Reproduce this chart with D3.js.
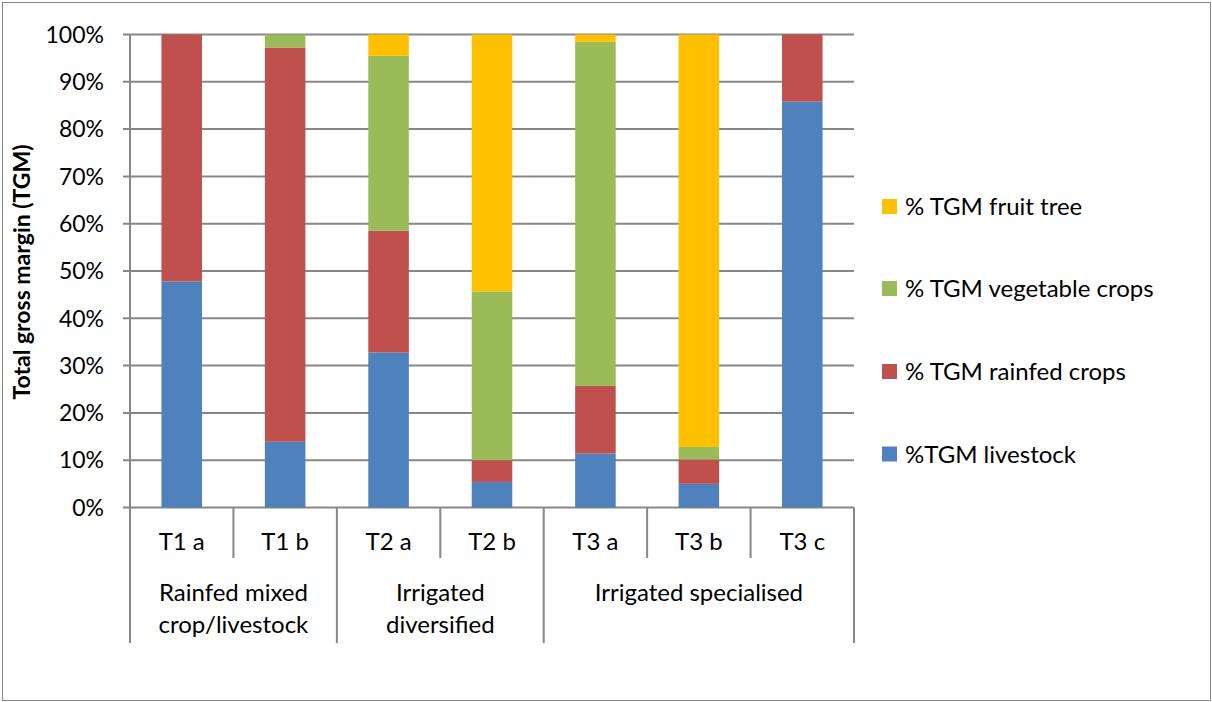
<!DOCTYPE html>
<html><head><meta charset="utf-8">
<script src="https://cdn.jsdelivr.net/npm/d3@7"></script>
<style>
html,body{margin:0;padding:0;background:#fff;}
svg{display:block;}
text{font-family:Lato,"Open Sans",sans-serif;fill:#000;}
</style></head>
<body>
<svg id="chart" width="1212" height="702"></svg>
<script>
const categories = ["T1 a","T1 b","T2 a","T2 b","T3 a","T3 b","T3 c"];
const groupLabels = [["Rainfed mixed","crop/livestock"],["Irrigated","diversified"],["Irrigated specialised"]];
const groupSizes = [2,2,3];
const seriesNames = ["%TGM livestock","% TGM rainfed crops","% TGM vegetable crops","% TGM fruit tree"];
const livestock = [47.8, 13.9, 32.8, 5.4, 11.4, 5.0, 85.8];
const rainfed   = [52.2, 83.35, 25.7, 4.6, 14.3, 5.15, 14.2];
const vegetable = [0, 2.75, 37.0, 35.7, 72.75, 2.65, 0];
const fruit     = [0, 0, 4.5, 54.3, 1.55, 87.2, 0];
const yTicks = [0,10,20,30,40,50,60,70,80,90,100];
const colors = ["#4F81BD","#C0504D","#9BBB59","#FFC000"];
const yTitle = "Total gross margin (TGM)";

const svg = d3.select("#chart");
const x0 = 130, x1 = 854, yBot = 507.5, yTop = 34.5;
const gridCol = "#878787";

svg.append("rect").attr("x",2.5).attr("y",2.5).attr("width",1208).attr("height",698)
  .attr("fill","#fff").attr("stroke","#878787").attr("stroke-width",1);

const x = d3.scaleBand().domain(categories).range([x0,x1]).paddingInner(0.608).paddingOuter(0.304);
const y = d3.scaleLinear().domain([0,100]).range([yBot,yTop]);

// gridlines
svg.append("g").selectAll("line").data(yTicks).join("line")
  .attr("x1",x0-7).attr("x2",x1).attr("y1",d=>y(d)).attr("y2",d=>y(d))
  .attr("stroke",gridCol).attr("stroke-width",2);

// y tick labels
svg.append("g").selectAll("text").data(yTicks).join("text")
  .attr("x",104).attr("y",d=>y(d)).attr("dy","0.36em").attr("text-anchor","end")
  .style("font-size","23px").text(d=>d+"%");

// stacked bars
const table = categories.map((c,i)=>({cat:c, s0:livestock[i], s1:rainfed[i], s2:vegetable[i], s3:fruit[i]}));
const stack = d3.stack().keys(["s0","s1","s2","s3"])(table);
svg.append("g").selectAll("g").data(stack).join("g")
  .attr("fill",(d,i)=>colors[i])
  .selectAll("rect").data(d=>d).join("rect")
  .attr("x",d=>x(d.data.cat)).attr("width",x.bandwidth())
  .attr("y",d=>y(d[1])).attr("height",d=>Math.max(0,y(d[0])-y(d[1])));

// axis lines
svg.append("line").attr("x1",x0).attr("x2",x0).attr("y1",yTop).attr("y2",yBot)
  .attr("stroke",gridCol).attr("stroke-width",2);

// category labels and dividers
const step = x.step();
svg.append("g").selectAll("text").data(categories).join("text")
  .attr("x",d=>x(d)+x.bandwidth()/2).attr("y",550).attr("text-anchor","middle")
  .style("font-size","24px").text(d=>d);

const bounds = d3.range(categories.length+1).map(i=>x0+i*step);
let cum = [0]; groupSizes.forEach(g=>cum.push(cum[cum.length-1]+g));
bounds.forEach((b,i)=>{
  const isGroup = cum.includes(i);
  svg.append("line").attr("x1",b).attr("x2",b).attr("y1",yBot).attr("y2",isGroup?643:558)
    .attr("stroke",gridCol).attr("stroke-width",2);
});

// group labels
groupLabels.forEach((lines,gi)=>{
  const cx = (bounds[cum[gi]]+bounds[cum[gi+1]])/2;
  const t = svg.append("text").attr("text-anchor","middle").style("font-size","24px");
  lines.forEach((ln,li)=>{
    t.append("tspan").attr("x",cx).attr("y",601+li*32).text(ln);
  });
});

// y title
svg.append("text").attr("transform","translate(30,272) rotate(-90)")
  .attr("text-anchor","middle").style("font-size","23px").style("font-weight","bold")
  .text(yTitle);

// legend (reverse order)
const legY = [206.5, 288.5, 371.5, 454];
const legOrder = [3,2,1,0];
const leg = svg.append("g").selectAll("g").data(legOrder).join("g")
  .attr("transform",(d,i)=>`translate(882,${legY[i]})`);
leg.append("rect").attr("x",0).attr("y",-7.5).attr("width",15).attr("height",15).attr("fill",d=>colors[d]);
leg.append("text").attr("x",23).attr("y",0).attr("dy","0.36em").style("font-size","24px").text(d=>seriesNames[d]);
</script>
</body></html>
